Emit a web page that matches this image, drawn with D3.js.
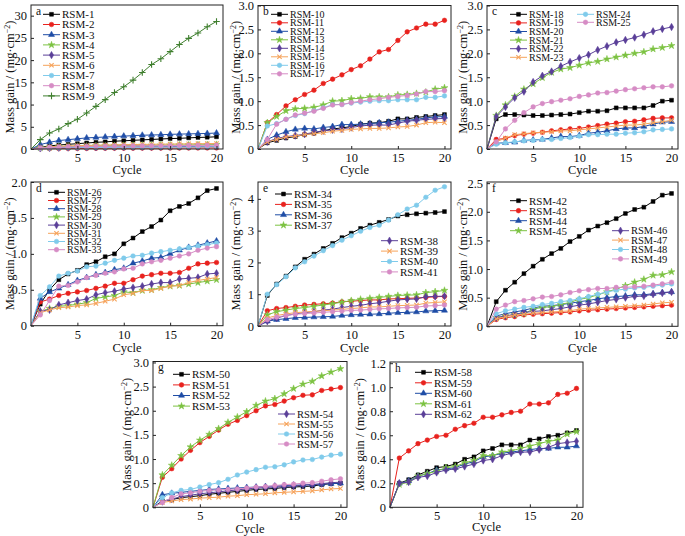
<!DOCTYPE html>
<html><head><meta charset="utf-8">
<script src="https://cdn.jsdelivr.net/npm/d3@7"></script>
<style>body{margin:0;background:#fff}text{font-family:"Liberation Serif","Times New Roman",serif;fill:#111}</style>
</head><body><svg id="c" width="685" height="536"></svg>
<script>
const cycles=[0,1,2,3,4,5,6,7,8,9,10,11,12,13,14,15,16,17,18,19,20];
const xTickValues=[5,10,15,20];
const seriesColors=["#000000","#e8221e","#1f4da6","#7cc242","#5a3f98","#f6a35b","#80cbeb","#d68cc5","#3f7f2e"];

const namesA=["RSM-1","RSM-2","RSM-3","RSM-4","RSM-5","RSM-6","RSM-7","RSM-8","RSM-9"];
const valuesA=[
[0,0.4,0.7,0.9,1.05,1.2,1.35,1.5,1.6,1.75,1.85,1.95,2.05,2.15,2.25,2.35,2.4,2.5,2.6,2.65,2.75],
[0,0.05,0.08,0.1,0.12,0.13,0.14,0.15,0.16,0.17,0.18,0.19,0.2,0.2,0.21,0.22,0.22,0.23,0.24,0.24,0.25],
[0,1.0,1.5,1.9,2.1,2.3,2.5,2.6,2.7,2.8,2.9,3.0,3.1,3.15,3.2,3.3,3.35,3.4,3.45,3.5,3.6],
[0,0.25,0.4,0.5,0.55,0.6,0.65,0.7,0.72,0.75,0.78,0.8,0.82,0.84,0.86,0.88,0.9,0.92,0.95,0.97,1.0],
[0,0.15,0.25,0.3,0.33,0.36,0.38,0.4,0.42,0.44,0.46,0.48,0.5,0.51,0.52,0.54,0.55,0.56,0.58,0.59,0.6],
[0,0.3,0.5,0.6,0.7,0.75,0.8,0.85,0.9,0.95,1.0,1.0,1.05,1.05,1.1,1.1,1.15,1.15,1.2,1.2,1.25],
[0,0.12,0.2,0.25,0.28,0.3,0.32,0.34,0.36,0.38,0.39,0.4,0.41,0.42,0.43,0.44,0.45,0.46,0.47,0.48,0.5],
[0,0.2,0.35,0.42,0.48,0.52,0.56,0.6,0.62,0.65,0.67,0.69,0.7,0.72,0.74,0.76,0.78,0.8,0.82,0.83,0.85],
[0,2.1,3.6,4.5,5.7,6.7,8.1,9.6,11.1,12.7,14.0,15.5,17.2,19.0,20.3,21.9,23.5,24.9,26.1,27.5,28.7]];
const yTicksA=[0,5,10,15,20,25,30];

const namesB=["RSM-10","RSM-11","RSM-12","RSM-13","RSM-14","RSM-15","RSM-16","RSM-17"];
const valuesB=[
[0,0.13,0.18,0.23,0.26,0.3,0.33,0.38,0.42,0.44,0.47,0.52,0.54,0.55,0.58,0.63,0.63,0.66,0.68,0.7,0.72],
[0,0.55,0.72,0.9,1.03,1.14,1.23,1.37,1.46,1.55,1.66,1.74,1.88,2.03,2.08,2.27,2.45,2.53,2.61,2.61,2.69],
[0,0.2,0.29,0.36,0.41,0.43,0.42,0.45,0.47,0.51,0.51,0.52,0.53,0.55,0.56,0.58,0.6,0.62,0.65,0.67,0.68],
[0,0.55,0.68,0.8,0.84,0.85,0.87,0.92,1.0,1.01,1.05,1.06,1.09,1.09,1.09,1.13,1.14,1.16,1.19,1.25,1.28],
[0,0.15,0.22,0.26,0.28,0.31,0.35,0.38,0.4,0.42,0.45,0.48,0.5,0.5,0.5,0.54,0.58,0.6,0.62,0.63,0.64],
[0,0.15,0.2,0.25,0.27,0.3,0.32,0.34,0.37,0.39,0.41,0.42,0.43,0.43,0.44,0.46,0.47,0.5,0.55,0.56,0.55],
[0,0.48,0.53,0.62,0.7,0.74,0.8,0.86,0.93,0.93,0.96,0.98,1.0,1.01,1.01,1.03,1.03,1.03,1.08,1.08,1.11],
[0,0.2,0.52,0.62,0.71,0.75,0.79,0.85,0.92,0.93,0.97,1.0,1.03,1.05,1.08,1.1,1.12,1.15,1.2,1.2,1.22]];
const yTicksB=[0,0.5,1.0,1.5,2.0,2.5,3.0];

const namesC=["RSM-18","RSM-19","RSM-20","RSM-21","RSM-22","RSM-23","RSM-24","RSM-25"];
const valuesC=[
[0,0.63,0.72,0.72,0.71,0.7,0.7,0.71,0.72,0.73,0.76,0.79,0.79,0.8,0.86,0.86,0.86,0.86,0.91,1.0,1.02],
[0,0.2,0.22,0.28,0.31,0.33,0.35,0.38,0.4,0.42,0.43,0.46,0.49,0.52,0.54,0.57,0.58,0.61,0.64,0.65,0.65],
[0,0.12,0.13,0.14,0.18,0.19,0.2,0.23,0.26,0.26,0.28,0.33,0.35,0.38,0.42,0.44,0.44,0.47,0.52,0.56,0.57],
[0,0.7,0.92,1.1,1.25,1.36,1.49,1.6,1.67,1.7,1.75,1.8,1.83,1.88,1.92,1.96,2.0,2.03,2.09,2.12,2.16],
[0,0.68,0.88,1.07,1.2,1.4,1.53,1.62,1.73,1.82,1.9,1.97,2.07,2.15,2.23,2.28,2.33,2.39,2.46,2.51,2.55],
[0,0.15,0.23,0.3,0.32,0.34,0.35,0.36,0.38,0.38,0.4,0.42,0.44,0.46,0.48,0.5,0.5,0.52,0.55,0.57,0.6],
[0,0.1,0.13,0.15,0.17,0.18,0.2,0.2,0.22,0.24,0.27,0.3,0.3,0.31,0.31,0.33,0.34,0.36,0.4,0.41,0.42],
[0,0.15,0.42,0.6,0.76,0.88,0.95,0.99,1.02,1.05,1.1,1.13,1.17,1.18,1.21,1.24,1.26,1.28,1.3,1.3,1.32]];
const yTicksC=[0,0.5,1.0,1.5,2.0,2.5,3.0];

const namesD=["RSM-26","RSM-27","RSM-28","RSM-29","RSM-30","RSM-31","RSM-32","RSM-33"];
const valuesD=[
[0,0.3,0.5,0.64,0.72,0.77,0.85,0.89,0.96,1.0,1.14,1.22,1.31,1.38,1.47,1.6,1.66,1.7,1.78,1.88,1.91],
[0,0.33,0.37,0.42,0.45,0.47,0.49,0.52,0.55,0.59,0.59,0.64,0.69,0.71,0.73,0.73,0.74,0.8,0.86,0.87,0.88],
[0,0.38,0.47,0.52,0.57,0.63,0.67,0.71,0.74,0.78,0.8,0.87,0.9,0.94,0.95,1.0,1.05,1.09,1.12,1.15,1.18],
[0,0.2,0.24,0.27,0.28,0.3,0.32,0.38,0.4,0.42,0.47,0.46,0.49,0.5,0.53,0.55,0.56,0.58,0.6,0.62,0.64],
[0,0.2,0.22,0.29,0.32,0.35,0.37,0.43,0.46,0.48,0.51,0.53,0.55,0.58,0.6,0.6,0.65,0.66,0.67,0.72,0.73],
[0,0.18,0.22,0.25,0.26,0.28,0.29,0.31,0.34,0.37,0.43,0.45,0.49,0.49,0.52,0.55,0.56,0.6,0.63,0.65,0.67],
[0,0.42,0.54,0.69,0.73,0.76,0.82,0.83,0.87,0.91,0.94,0.97,0.98,1.01,1.03,1.05,1.07,1.09,1.11,1.13,1.15],
[0,0.15,0.35,0.55,0.56,0.61,0.67,0.7,0.73,0.75,0.79,0.8,0.86,0.89,0.91,0.94,0.97,1.0,1.05,1.08,1.1]];
const yTicksD=[0,0.5,1.0,1.5,2.0];

const namesE=["RSM-34","RSM-35","RSM-36","RSM-37","RSM-38","RSM-39","RSM-40","RSM-41"];
const valuesE=[
[0,0.96,1.32,1.57,1.86,2.1,2.26,2.44,2.6,2.78,2.92,3.07,3.17,3.26,3.35,3.46,3.5,3.53,3.55,3.57,3.6],
[0,0.48,0.55,0.58,0.62,0.66,0.68,0.7,0.72,0.76,0.78,0.8,0.82,0.82,0.85,0.86,0.87,0.88,0.9,0.92,0.93],
[0,0.15,0.2,0.23,0.26,0.27,0.28,0.29,0.3,0.33,0.35,0.36,0.37,0.38,0.4,0.42,0.43,0.44,0.47,0.48,0.49],
[0,0.35,0.45,0.5,0.55,0.58,0.62,0.66,0.7,0.75,0.8,0.84,0.87,0.9,0.93,0.96,0.97,0.98,1.05,1.08,1.12],
[0,0.15,0.25,0.33,0.38,0.42,0.45,0.5,0.53,0.58,0.62,0.65,0.7,0.73,0.78,0.82,0.84,0.85,0.92,0.93,0.94],
[0,0.25,0.33,0.38,0.42,0.44,0.46,0.48,0.5,0.52,0.55,0.57,0.6,0.6,0.62,0.64,0.65,0.66,0.72,0.74,0.76],
[0,1.0,1.3,1.55,1.83,2.02,2.2,2.37,2.53,2.7,2.84,2.98,3.1,3.17,3.33,3.5,3.68,3.8,4.05,4.27,4.38],
[0,0.2,0.28,0.33,0.37,0.39,0.41,0.43,0.45,0.47,0.49,0.5,0.52,0.54,0.55,0.57,0.58,0.59,0.63,0.64,0.66]];
const yTicksE=[0,1,2,3,4];

const namesF=["RSM-42","RSM-43","RSM-44","RSM-45","RSM-46","RSM-47","RSM-48","RSM-49"];
const valuesF=[
[0,0.43,0.63,0.77,0.92,1.05,1.17,1.27,1.36,1.48,1.57,1.68,1.75,1.81,1.88,1.97,2.04,2.08,2.18,2.29,2.32],
[0,0.12,0.15,0.17,0.2,0.21,0.22,0.23,0.24,0.25,0.27,0.28,0.29,0.3,0.31,0.32,0.33,0.34,0.35,0.36,0.37],
[0,0.18,0.22,0.25,0.28,0.32,0.35,0.36,0.38,0.4,0.43,0.45,0.48,0.5,0.52,0.53,0.55,0.55,0.57,0.59,0.6],
[0,0.15,0.18,0.2,0.22,0.3,0.33,0.34,0.38,0.42,0.47,0.5,0.55,0.6,0.65,0.71,0.77,0.82,0.89,0.9,0.95],
[0,0.15,0.18,0.21,0.24,0.26,0.27,0.29,0.31,0.34,0.37,0.39,0.42,0.45,0.47,0.5,0.52,0.53,0.56,0.58,0.6],
[0,0.13,0.17,0.2,0.21,0.23,0.24,0.25,0.26,0.27,0.3,0.31,0.32,0.33,0.34,0.35,0.36,0.37,0.39,0.41,0.42],
[0,0.22,0.27,0.3,0.33,0.35,0.38,0.4,0.43,0.45,0.48,0.52,0.56,0.6,0.63,0.65,0.67,0.68,0.7,0.72,0.74],
[0,0.3,0.37,0.43,0.45,0.48,0.51,0.52,0.55,0.59,0.62,0.64,0.66,0.66,0.68,0.68,0.69,0.7,0.72,0.74,0.77]];
const yTicksF=[0,0.5,1.0,1.5,2.0,2.5];

const namesG=["RSM-50","RSM-51","RSM-52","RSM-53","RSM-54","RSM-55","RSM-56","RSM-57"];
const valuesG=[
[0,0.13,0.16,0.2,0.22,0.24,0.27,0.29,0.31,0.33,0.35,0.37,0.38,0.39,0.41,0.42,0.43,0.44,0.47,0.49,0.5],
[0,0.62,0.8,1.0,1.18,1.34,1.47,1.6,1.72,1.8,1.9,2.0,2.1,2.13,2.2,2.27,2.32,2.33,2.42,2.45,2.48],
[0,0.26,0.29,0.31,0.33,0.35,0.37,0.38,0.39,0.4,0.41,0.42,0.43,0.44,0.45,0.46,0.46,0.47,0.48,0.49,0.5],
[0,0.67,0.87,1.07,1.25,1.39,1.51,1.63,1.76,1.87,1.98,2.11,2.2,2.25,2.35,2.46,2.55,2.61,2.72,2.8,2.87],
[0,0.12,0.17,0.22,0.25,0.28,0.3,0.32,0.34,0.36,0.38,0.4,0.41,0.42,0.43,0.44,0.46,0.47,0.49,0.51,0.52],
[0,0.1,0.13,0.16,0.17,0.19,0.2,0.21,0.23,0.24,0.26,0.27,0.28,0.3,0.31,0.32,0.33,0.34,0.36,0.38,0.39],
[0,0.2,0.3,0.35,0.37,0.42,0.47,0.51,0.58,0.67,0.73,0.78,0.83,0.84,0.88,0.94,0.98,0.99,1.04,1.08,1.1],
[0,0.1,0.2,0.28,0.3,0.33,0.35,0.36,0.37,0.38,0.4,0.42,0.43,0.45,0.47,0.48,0.5,0.51,0.54,0.57,0.59]];
const yTicksG=[0,0.5,1.0,1.5,2.0,2.5,3.0];

const namesH=["RSM-58","RSM-59","RSM-60","RSM-61","RSM-62"];
const valuesH=[
[0,0.2,0.23,0.27,0.3,0.33,0.34,0.36,0.4,0.42,0.47,0.49,0.52,0.52,0.52,0.56,0.57,0.59,0.6,0.62,0.64],
[0,0.41,0.47,0.53,0.56,0.59,0.6,0.65,0.68,0.7,0.75,0.75,0.77,0.79,0.8,0.86,0.86,0.87,0.94,0.95,0.99],
[0,0.2,0.22,0.26,0.28,0.31,0.32,0.33,0.36,0.38,0.42,0.43,0.45,0.46,0.47,0.48,0.49,0.49,0.5,0.5,0.51],
[0,0.19,0.21,0.26,0.28,0.3,0.33,0.34,0.37,0.39,0.43,0.43,0.46,0.47,0.49,0.51,0.53,0.55,0.56,0.61,0.63],
[0,0.2,0.21,0.25,0.26,0.29,0.31,0.32,0.34,0.36,0.39,0.4,0.43,0.45,0.46,0.46,0.48,0.5,0.53,0.54,0.55]];
const yTicksH=[0,0.2,0.4,0.6,0.8,1.0,1.2];

// ---- layout (positions / styles) ----
const panels=[
 {tag:"a",names:namesA,values:valuesA,yTicks:yTicksA,yMax:32.4,fmt:d=>d,box:[31,223,5,149],ytx:10,xty:174,
  leg:[{x:43,y:14.3,dy:10.2,fs:11,from:0,to:9}]},
 {tag:"b",names:namesB,values:valuesB,yTicks:yTicksB,yMax:3.0,box:[258,451,5.5,149],ytx:236,xty:174,
  leg:[{x:271,y:14.3,dy:8.5,fs:10,from:0,to:8}]},
 {tag:"c",names:namesC,values:valuesC,yTicks:yTicksC,yMax:3.0,box:[487,678,5.5,149],ytx:463,xty:174,
  leg:[{x:510,y:14.3,dy:8.6,fs:10,from:0,to:6},{x:577,y:14.3,dy:8,fs:10,from:6,to:8}]},
 {tag:"d",names:namesD,values:valuesD,yTicks:yTicksD,yMax:2.0,box:[31,223,182,325.7],ytx:10,xty:352,
  leg:[{x:48,y:192.3,dy:8.2,fs:10,from:0,to:8}]},
 {tag:"e",names:namesE,values:valuesE,yTicks:yTicksE,yMax:4.53,fmt:d=>d,box:[258,451,182,326],ytx:236,xty:352,
  leg:[{x:275,y:194,dy:10.4,fs:11,from:0,to:4},{x:381,y:240.7,dy:10.4,fs:11,from:4,to:8}]},
 {tag:"f",names:namesF,values:valuesF,yTicks:yTicksF,yMax:2.52,box:[487,678,182,326.3],ytx:463,xty:352,
  leg:[{x:510,y:200.7,dy:10,fs:11,from:0,to:4},{x:612,y:230.7,dy:9.4,fs:10.5,from:4,to:8}]},
 {tag:"g",names:namesG,values:valuesG,yTicks:yTicksG,yMax:3.02,box:[153,347,361.5,507.3],ytx:127,xty:533,
  leg:[{x:173,y:374.3,dy:10.6,fs:11,from:0,to:4},{x:278,y:414,dy:10,fs:10.5,from:4,to:8}]},
 {tag:"h",names:namesH,values:valuesH,yTicks:yTicksH,yMax:1.21,box:[390,583,362,507.3],ytx:360,xty:531,
  leg:[{x:415,y:372.3,dy:10.5,fs:11,from:0,to:5}]}
];

const markerTypes=[
 {t:d3.symbolSquare,s:15,fill:true},{t:d3.symbolCircle,s:17,fill:true},{t:d3.symbolTriangle,s:16,fill:true},
 {t:d3.symbolStar,s:15,fill:true},{t:d3.symbolDiamond,s:16,fill:true},{t:d3.symbolTimes,s:14,fill:false},
 {t:d3.symbolCircle,s:17,fill:true},{t:d3.symbolCircle,s:17,fill:true},{t:d3.symbolPlus,s:16,fill:false}];

const svg=d3.select("#c");
function drawMarker(g,i,x,y,color){
  const m=markerTypes[i];
  g.append("path").attr("d",d3.symbol().type(m.t).size(m.s)()).attr("transform",`translate(${x},${y})`)
   .attr("fill",m.fill?color:"none").attr("stroke",color).attr("stroke-width",m.fill?0.5:1.1);
}
const defFmt=d=>d===0?"0":d3.format(".1f")(d);

panels.forEach(p=>{
  const [l,r,t,b]=p.box;
  const x=d3.scaleLinear().domain([0,20.7]).range([l,r]);
  const y=d3.scaleLinear().domain([0,p.yMax]).range([b,t]);
  const g=svg.append("g");
  p.values.forEach((vals,i)=>{
    const col=seriesColors[i];
    const pts=cycles.map((c,k)=>[x(c),y(vals[k])]);
    g.append("path").attr("d",d3.line()(pts)).attr("fill","none").attr("stroke",col).attr("stroke-width",1);
    pts.slice(1).forEach(pt=>drawMarker(g,i,pt[0],pt[1],col));
  });
  g.append("rect").attr("x",l).attr("y",t).attr("width",r-l).attr("height",b-t).attr("fill","none").attr("stroke","#222").attr("stroke-width",1);
  const fmt=p.fmt||defFmt;
  const ax=g.append("g").attr("transform",`translate(0,${b})`).call(d3.axisBottom(x).tickValues(xTickValues).tickSizeInner(-3).tickSizeOuter(0).tickPadding(4));
  const ay=g.append("g").attr("transform",`translate(${l},0)`).call(d3.axisLeft(y).tickValues(p.yTicks).tickFormat(fmt).tickSizeInner(-3).tickSizeOuter(0).tickPadding(4));
  [ax,ay].forEach(a=>{a.select(".domain").remove();a.selectAll("line").attr("stroke","#222");
    a.selectAll("text").attr("font-size",12.5).attr("font-family","Liberation Serif").attr("fill","#111");});
  g.append("text").attr("x",(l+r)/2).attr("y",p.xty).attr("text-anchor","middle").attr("font-size",12.5).text("Cycle");
  const yt=g.append("text").attr("transform",`translate(${p.ytx},${(t+b)/2}) rotate(-90)`).attr("text-anchor","middle").attr("dy","0.35em").attr("font-size",12.5);
  yt.append("tspan").text("Mass gain / (mg·cm");
  yt.append("tspan").attr("dy",-4).attr("font-size",8).text("−2");
  yt.append("tspan").attr("dy",4).text(")");
  g.append("text").attr("x",l+5).attr("y",t+9.5).attr("font-size",11.5).text(p.tag);
  p.leg.forEach(L=>{
    for(let i=L.from;i<L.to;i++){
      const yy=L.y+(i-L.from)*L.dy, col=seriesColors[i];
      g.append("line").attr("x1",L.x).attr("x2",L.x+17).attr("y1",yy).attr("y2",yy).attr("stroke",col).attr("stroke-width",1);
      drawMarker(g,i,L.x+8.5,yy,col);
      g.append("text").attr("x",L.x+19).attr("y",yy).attr("dy","0.35em").attr("font-size",L.fs).text(p.names[i]);
    }
  });
});
</script></body></html>
